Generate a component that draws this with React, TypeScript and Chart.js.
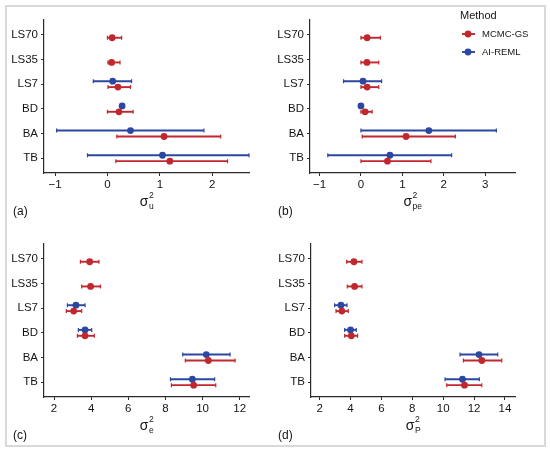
import { useEffect, useRef } from "react";
import { Chart, registerables } from "chart.js";

Chart.register(...registerables);

const FONT = "'Liberation Sans', Arial, sans-serif";
const RED = "#c0282e";
const BLUE = "#2b47a1";

const categories = ["LS70", "LS35", "LS7", "BD", "BA", "TB"];
const methods = ["MCMC-GS", "AI-REML"];

// (a) sigma^2_u
const uMcmc = [0.09, 0.08, 0.2, 0.22, 1.08, 1.19];
const uMcmcLow = [0.0, 0.01, 0.01, 0.0, 0.18, 0.16];
const uMcmcHigh = [0.27, 0.24, 0.44, 0.49, 2.16, 2.29];
const uReml = [null, null, 0.1, 0.28, 0.44, 1.05];
const uRemlLow = [null, null, -0.27, null, -0.97, -0.38];
const uRemlHigh = [null, null, 0.46, null, 1.84, 2.7];
const uTicks = [-1, 0, 1, 2];

// (b) sigma^2_pe
const peMcmc = [0.15, 0.145, 0.15, 0.1, 1.09, 0.64];
const peMcmcLow = [0.0, 0.0, 0.0, 0.0, 0.03, 0.0];
const peMcmcHigh = [0.47, 0.43, 0.43, 0.27, 2.28, 1.69];
const peReml = [null, null, 0.05, 0.0, 1.64, 0.7];
const peRemlLow = [null, null, -0.42, null, 0.0, -0.8];
const peRemlHigh = [null, null, 0.5, null, 3.27, 2.19];
const peTicks = [-1, 0, 1, 2, 3];

// (c) sigma^2_e
const eMcmc = [3.92, 3.97, 3.06, 3.67, 10.31, 9.52];
const eMcmcLow = [3.42, 3.49, 2.66, 3.26, 9.07, 8.32];
const eMcmcHigh = [4.42, 4.5, 3.49, 4.17, 11.75, 10.71];
const eReml = [null, null, 3.18, 3.67, 10.2, 9.45];
const eRemlLow = [null, null, 2.72, 3.31, 8.93, 8.27];
const eRemlHigh = [null, null, 3.67, 4.03, 11.48, 10.65];
const eTicks = [2, 4, 6, 8, 10, 12];

// (d) sigma^2_P
const pMcmc = [4.22, 4.26, 3.44, 4.05, 12.5, 11.38];
const pMcmcLow = [3.75, 3.79, 3.06, 3.62, 11.31, 10.23];
const pMcmcHigh = [4.74, 4.74, 3.85, 4.46, 13.79, 12.5];
const pReml = [null, null, 3.38, 4.0, 12.32, 11.25];
const pRemlLow = [null, null, 2.97, 3.62, 11.09, 10.12];
const pRemlHigh = [null, null, 3.77, 4.37, 13.53, 12.34];
const pTicks = [2, 4, 6, 8, 10, 12, 14];

type Num = number | null;

const points = (est: Num[], lo: Num[], hi: Num[], shift: number) =>
  est
    .map((v, i) => (v == null ? null : { x: v, y: i + shift, lo: lo[i], hi: hi[i] }))
    .filter((d) => d != null);

const errorBars = {
  id: "errorBars",
  beforeDatasetsDraw(chart: any) {
    const { ctx } = chart;
    const xs = chart.scales.x;
    chart.data.datasets.forEach((ds: any, i: number) => {
      const meta = chart.getDatasetMeta(i);
      ctx.save();
      ctx.strokeStyle = ds.borderColor;
      ctx.lineWidth = 1.9;
      ds.data.forEach((d: any, j: number) => {
        if (d.lo == null || d.hi == null) return;
        const y = meta.data[j].y;
        const x0 = xs.getPixelForValue(d.lo);
        const x1 = xs.getPixelForValue(d.hi);
        ctx.beginPath();
        ctx.moveTo(x0, y);
        ctx.lineTo(x1, y);
        ctx.stroke();
        ctx.lineWidth = 1.2;
        ctx.beginPath();
        ctx.moveTo(x0, y - 2);
        ctx.lineTo(x0, y + 2);
        ctx.moveTo(x1, y - 2);
        ctx.lineTo(x1, y + 2);
        ctx.stroke();
        ctx.lineWidth = 1.9;
      });
      ctx.restore();
    });
  },
};

const annotate = {
  id: "annotate",
  afterDraw(chart: any, _args: any, opts: any) {
    const { ctx, chartArea } = chart;
    ctx.save();
    ctx.fillStyle = "#151515";
    ctx.textBaseline = "alphabetic";

    // axis title: sigma with stacked superscript 2 and subscript
    const base = chartArea.bottom + 33;
    ctx.font = `14px ${FONT}`;
    const sW = ctx.measureText("σ").width;
    ctx.font = `8.5px ${FONT}`;
    const subW = Math.max(ctx.measureText(opts.sub).width, ctx.measureText("2").width);
    const cx = (chartArea.left + chartArea.right) / 2;
    const x0 = cx - (sW + subW) / 2;
    ctx.font = `14px ${FONT}`;
    ctx.fillText("σ", x0, base);
    ctx.font = `8.5px ${FONT}`;
    ctx.fillText("2", x0 + sW + 0.5, base - 8);
    ctx.fillText(opts.sub, x0 + sW + 0.5, base + 3);

    // panel tag
    ctx.font = `12px ${FONT}`;
    ctx.fillText(opts.tag, opts.tagX, chartArea.bottom + 42);

    if (opts.legend) {
      ctx.font = `11px ${FONT}`;
      ctx.fillText("Method", 185, 19);
      ctx.font = `9.5px ${FONT}`;
      const rows = [
        { label: methods[0], color: RED, y: 34 },
        { label: methods[1], color: BLUE, y: 52 },
      ];
      rows.forEach((r) => {
        ctx.strokeStyle = r.color;
        ctx.fillStyle = r.color;
        ctx.lineWidth = 1.9;
        ctx.beginPath();
        ctx.moveTo(187, r.y);
        ctx.lineTo(200, r.y);
        ctx.stroke();
        ctx.beginPath();
        ctx.arc(193, r.y, 3.4, 0, Math.PI * 2);
        ctx.fill();
        ctx.fillStyle = "#151515";
        ctx.textBaseline = "middle";
        ctx.fillText(r.label, 207, r.y + 0.5);
      });
    }
    ctx.restore();
  },
};

type PanelProps = {
  width: number;
  height: number;
  area: { left: number; right: number; top: number; bottom: number };
  mcmc: Num[][];
  reml: Num[][];
  ticks: number[];
  xMin: number;
  xMax: number;
  sub: string;
  tag: string;
  tagX: number;
  legend?: boolean;
};

const Panel = (p: PanelProps) => {
  const ref = useRef<HTMLCanvasElement>(null);

  useEffect(() => {
    if (!ref.current) return;
    const axisColor = "#2a2a2a";
    const tickFont = { family: FONT, size: 11.5 };
    const chart = new Chart(ref.current, {
      type: "scatter",
      data: {
        datasets: [
          {
            label: methods[0],
            data: points(p.mcmc[0], p.mcmc[1], p.mcmc[2], 0.12) as any,
            backgroundColor: RED,
            borderColor: RED,
            pointRadius: 3.4,
            pointBorderWidth: 0,
          },
          {
            label: methods[1],
            data: points(p.reml[0], p.reml[1], p.reml[2], -0.12) as any,
            backgroundColor: BLUE,
            borderColor: BLUE,
            pointRadius: 3.4,
            pointBorderWidth: 0,
          },
        ],
      },
      options: {
        responsive: false,
        animation: false,
        layout: {
          padding: {
            left: 0,
            top: p.area.top,
            right: p.width - p.area.right,
            bottom: 0,
          },
        },
        plugins: {
          legend: { display: false },
          tooltip: { enabled: false },
          annotate: { sub: p.sub, tag: p.tag, tagX: p.tagX, legend: !!p.legend },
        } as any,
        scales: {
          x: {
            type: "linear",
            min: p.xMin,
            max: p.xMax,
            afterBuildTicks: (s: any) => {
              s.ticks = p.ticks.map((v) => ({ value: v }));
            },
            afterFit: (s: any) => {
              s.height = p.height - p.area.bottom;
            },
            grid: {
              display: true,
              drawOnChartArea: false,
              drawTicks: true,
              tickLength: 3,
              color: axisColor,
            },
            border: { display: true, color: axisColor, width: 1.2 },
            ticks: {
              font: tickFont,
              color: "#151515",
              padding: 2,
              maxRotation: 0,
              callback: (v: any) => (v < 0 ? "\u2212" + Math.abs(v) : String(v)),
            },
          },
          y: {
            type: "linear",
            reverse: true,
            min: -0.6,
            max: 5.6,
            afterBuildTicks: (s: any) => {
              s.ticks = categories.map((_, i) => ({ value: i }));
            },
            afterFit: (s: any) => {
              s.width = p.area.left;
            },
            grid: {
              display: true,
              drawOnChartArea: false,
              drawTicks: true,
              tickLength: 3,
              color: axisColor,
            },
            border: { display: true, color: axisColor, width: 1.2 },
            ticks: {
              font: tickFont,
              color: "#151515",
              padding: 3,
              callback: (v: any) => categories[v] ?? "",
            },
          },
        },
      },
      plugins: [errorBars, annotate],
    });
    return () => chart.destroy();
  }, []);

  return <canvas ref={ref} width={p.width} height={p.height} style={{ display: "block" }} />;
};

export default function App() {
  const box = (left: number, top: number): React.CSSProperties => ({
    position: "absolute",
    left,
    top,
  });
  return (
    <div style={{ position: "absolute", left: 0, top: 0, width: 550, height: 453, background: "#fff" }}>
      <div
        style={{
          position: "absolute",
          left: 5,
          top: 5,
          width: 541,
          height: 442,
          border: "2px solid #d9d9d9",
          boxSizing: "border-box",
        }}
      />
      <div style={box(0, 0)}>
        <Panel
          width={275}
          height={226}
          area={{ left: 44, right: 249, top: 20, bottom: 173 }}
          mcmc={[uMcmc, uMcmcLow, uMcmcHigh]}
          reml={[uReml, uRemlLow, uRemlHigh]}
          ticks={uTicks}
          xMin={-1.21}
          xMax={2.7}
          sub="u"
          tag="(a)"
          tagX={13}
        />
      </div>
      <div style={box(275, 0)}>
        <Panel
          width={275}
          height={226}
          area={{ left: 35, right: 240, top: 20, bottom: 173 }}
          mcmc={[peMcmc, peMcmcLow, peMcmcHigh]}
          reml={[peReml, peRemlLow, peRemlHigh]}
          ticks={peTicks}
          xMin={-1.23}
          xMax={3.72}
          sub="pe"
          tag="(b)"
          tagX={3}
          legend
        />
      </div>
      <div style={box(0, 226)}>
        <Panel
          width={275}
          height={227}
          area={{ left: 44, right: 249, top: 18, bottom: 171 }}
          mcmc={[eMcmc, eMcmcLow, eMcmcHigh]}
          reml={[eReml, eRemlLow, eRemlHigh]}
          ticks={eTicks}
          xMin={1.46}
          xMax={12.5}
          sub="e"
          tag="(c)"
          tagX={13}
        />
      </div>
      <div style={box(275, 226)}>
        <Panel
          width={275}
          height={227}
          area={{ left: 36, right: 240, top: 18, bottom: 171 }}
          mcmc={[pMcmc, pMcmcLow, pMcmcHigh]}
          reml={[pReml, pRemlLow, pRemlHigh]}
          ticks={pTicks}
          xMin={1.44}
          xMax={14.65}
          sub="P"
          tag="(d)"
          tagX={3}
        />
      </div>
    </div>
  );
}
